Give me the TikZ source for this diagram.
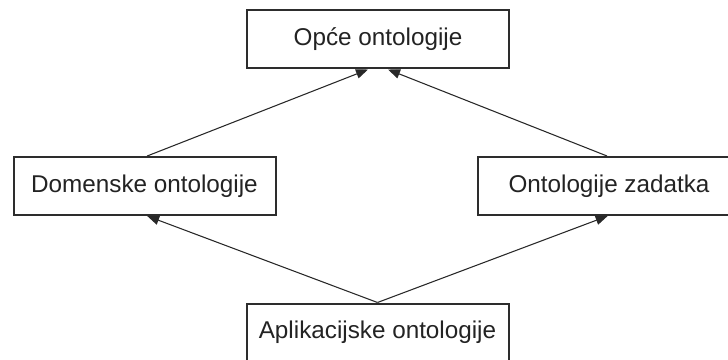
\documentclass[tikz,border=0pt]{standalone}
\usepackage{fontspec}
\setmainfont{Liberation Sans}
\usepackage{tikz}
\usetikzlibrary{arrows.meta}

\tikzset{
  ontbox/.style={draw={rgb,255:red,45;green,45;blue,45}, line width=1.5pt, fill=white,
    minimum width=262*0.75pt, minimum height=58*0.75pt, inner sep=0pt,
    font=\fontsize{18.2}{21}\selectfont, text={rgb,255:red,35;green,35;blue,35}},
  ontarrow/.style={draw={rgb,255:red,40;green,40;blue,40}, line width=0.8pt,
    -{Triangle[length=9pt,width=7pt]}}
}

\begin{document}
\begin{tikzpicture}[x=0.75pt,y=0.75pt,yscale=-1,xscale=1]
        \useasboundingbox (0,0) rectangle (728,360);

        % Boxes
        \node [ontbox] (opce) at (378,39.5) {Opće ontologije};
        \node [ontbox] (domen) at (144.5,186) {Domenske ontologije};
        \node [ontbox] (zadat) at (609,186) {Ontologije zadatka};
        \node [ontbox] (aplik) at (377.5,332.5) {Aplikacijske ontologije};

        % Arrows up to the general ontologies
        \draw [ontarrow] ([xshift=2pt]domen.north) -- ([xshift=-7.5pt]opce.south);
        \draw [ontarrow] ([xshift=-1.5pt]zadat.north) -- ([xshift=7.5pt]opce.south);

        % Arrows from the application ontologies
        \draw [ontarrow] (aplik.north) -- ([xshift=2pt]domen.south);
        \draw [ontarrow] (aplik.north) -- ([xshift=-1pt]zadat.south);

\end{tikzpicture}
\end{document}
